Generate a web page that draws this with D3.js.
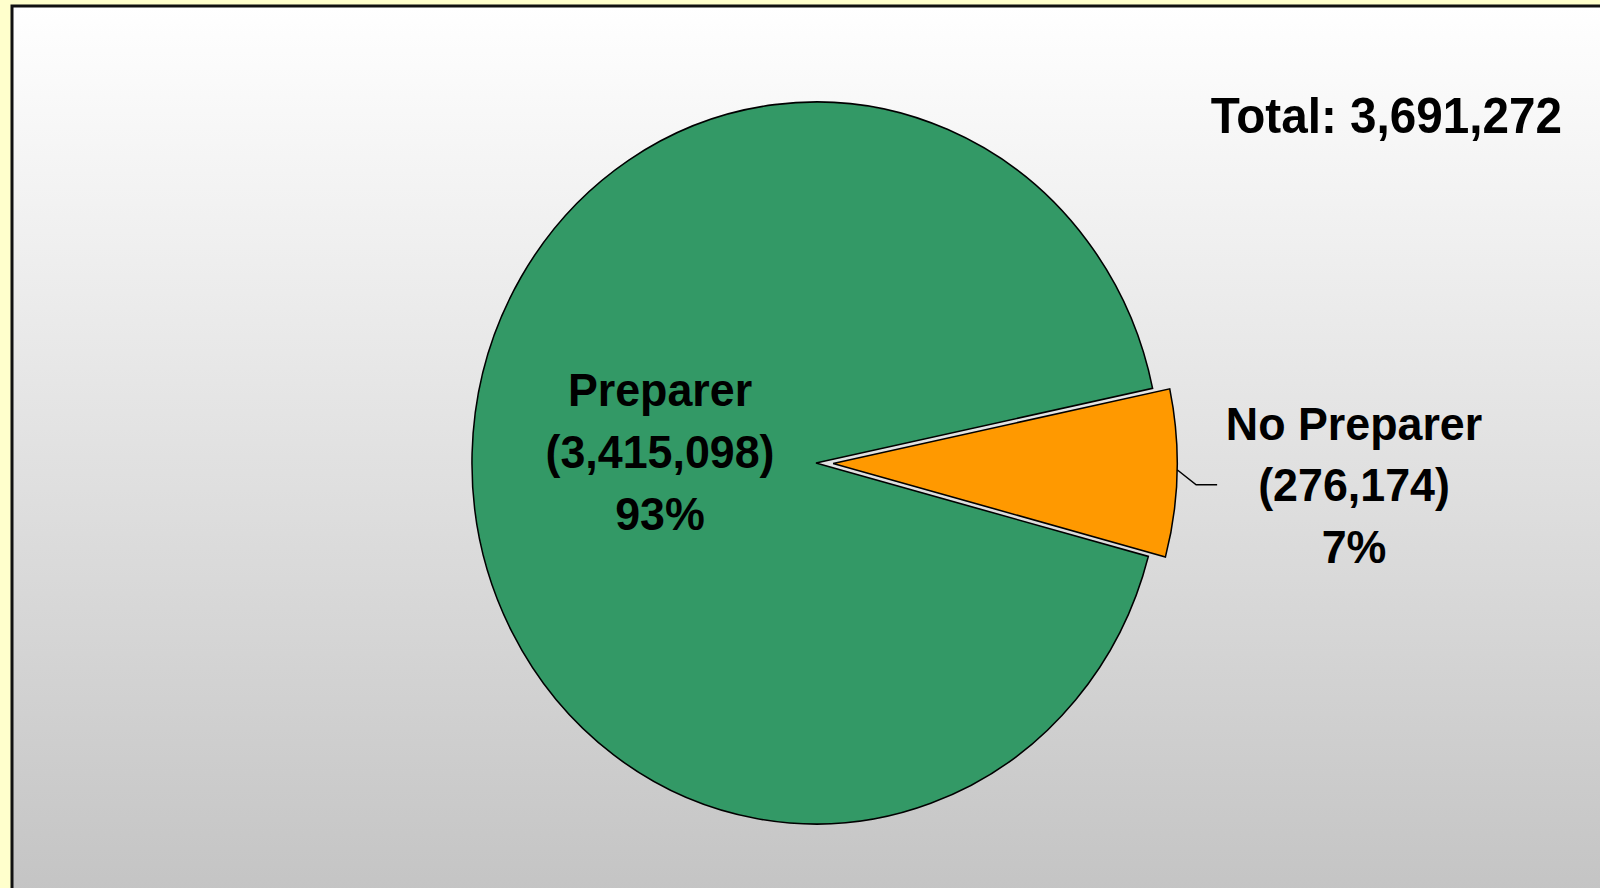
<!DOCTYPE html>
<html>
<head>
<meta charset="utf-8">
<script src="https://cdn.jsdelivr.net/npm/d3@7"></script>
<style>
  html, body { margin: 0; padding: 0; background: #FFFFCC; }
  svg { display: block; }
  .lbl { font-family: "Liberation Sans", Arial, sans-serif; font-weight: bold; fill: #000; }
</style>
</head>
<body>
<div id="chart"></div>
<script>
// data
const categories = ["Preparer", "No Preparer"];
const values = [3415098, 276174];
const colors = ["#339966", "#FF9900"];

const W = 1600, H = 888;
const sx = 0.953;              // chart is a bit squeezed horizontally
const cx = 816, cy = 463, r = 361;
const explode = [0, 18];

const svg = d3.select("#chart").append("svg")
  .attr("width", W).attr("height", H);

// panel background gradient
const grad = svg.append("defs").append("linearGradient")
  .attr("id", "bg").attr("x1", 0).attr("y1", 0).attr("x2", 0).attr("y2", 1);
grad.append("stop").attr("offset", "0%").attr("stop-color", "#FFFFFF");
grad.append("stop").attr("offset", "100%").attr("stop-color", "#C4C4C4");

svg.append("rect")
  .attr("x", 12).attr("y", 6).attr("width", W).attr("height", H)
  .attr("fill", "url(#bg)")
  .attr("stroke", "#111").attr("stroke-width", 3);

const total = d3.sum(values);
const fmt = d3.format(",");
const pct = d3.format(".0%");

const pie = d3.pie().sort(null)
  .startAngle(105 * Math.PI / 180)
  .endAngle(105 * Math.PI / 180 + 2 * Math.PI);
const arcs = pie(values);
const arc = d3.arc().innerRadius(0).outerRadius(r);

const g = svg.append("g")
  .attr("transform", `translate(${cx},${cy}) scale(${sx},1)`);

g.selectAll("path.slice")
  .data(arcs)
  .enter().append("path")
  .attr("class", "slice")
  .attr("transform", (d, i) => {
    const m = (d.startAngle + d.endAngle) / 2;
    return `translate(${Math.sin(m) * explode[i]},${-Math.cos(m) * explode[i]})`;
  })
  .attr("d", arc)
  .attr("fill", (d, i) => colors[i])
  .attr("stroke", "#000")
  .attr("stroke-width", 1.6)
  .attr("stroke-linejoin", "miter");

// leader line for the small slice
const small = arcs[1];
const lm = small.startAngle + (small.endAngle - small.startAngle) * 0.48;
const mm = (small.startAngle + small.endAngle) / 2;
const px = cx + (Math.sin(lm) * r + Math.sin(mm) * explode[1]) * sx;
const py = cy - Math.cos(lm) * r - Math.cos(mm) * explode[1];
svg.append("polyline")
  .attr("points", [[px, py], [px + 19, py + 15], [px + 40, py + 15]].map(p => p.join(",")).join(" "))
  .attr("fill", "none")
  .attr("stroke", "#000")
  .attr("stroke-width", 1.5);

// text helper (squeezed like the rest)
function label(x, y, lines, size, step, anchor) {
  const t = svg.append("text")
    .attr("class", "lbl")
    .attr("transform", `translate(${x},${y}) scale(${sx},1)`)
    .style("font-size", size + "px")
    .attr("text-anchor", anchor || "middle");
  lines.forEach((s, i) => {
    t.append("tspan").attr("x", 0).attr("y", i * step).text(s);
  });
}

label(660, 406, [categories[0], "(" + fmt(values[0]) + ")", pct(values[0] / total)], 47, 62);
label(1354, 440, [categories[1], "(" + fmt(values[1]) + ")", pct(values[1] / total)], 47, 61.5);
label(1562, 133, ["Total: " + fmt(total)], 50, 0, "end");
</script>
</body>
</html>
